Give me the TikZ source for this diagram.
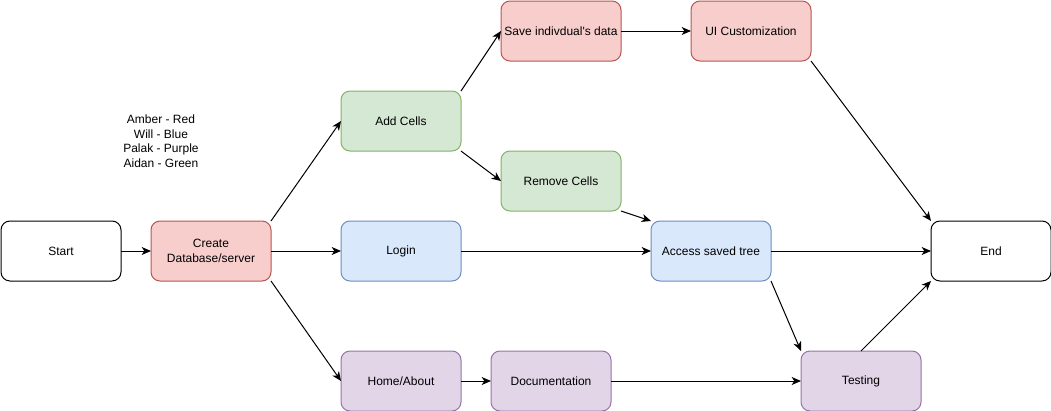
\documentclass[tikz,border=0pt]{standalone}
\usepackage{fontspec}
\newfontfamily\dfont{Liberation Sans}
\usetikzlibrary{arrows.meta}
\definecolor{redF}{HTML}{F8CECC}\definecolor{redD}{HTML}{B85450}
\definecolor{grnF}{HTML}{D5E8D4}\definecolor{grnD}{HTML}{82B366}
\definecolor{bluF}{HTML}{DAE8FC}\definecolor{bluD}{HTML}{6C8EBF}
\definecolor{purF}{HTML}{E1D5E7}\definecolor{purD}{HTML}{9673A6}
\tikzset{
  box/.style={draw, rounded corners=6.75pt, minimum width=90pt, minimum height=45pt,
    inner sep=0pt, outer sep=0pt, line width=0.75pt, align=center,
    font=\dfont\fontsize{9}{10.9}\selectfont},
  plain/.style={box, draw=black, fill=white},
  redbox/.style={box, draw=redD, fill=redF},
  grnbox/.style={box, draw=grnD, fill=grnF},
  blubox/.style={box, draw=bluD, fill=bluF},
  purbox/.style={box, draw=purD, fill=purF},
  conn/.style={-{Stealth[length=7pt,width=6pt,inset=2pt]}, line width=0.75pt, black}
}
\begin{document}
\begin{tikzpicture}[x=0.75pt,y=-0.75pt]
\useasboundingbox (0,0) rectangle (1051,411);
\node[plain]  (start)   at (61,251)  {Start};
\node[redbox] (create)  at (211,251) {Create\\Database/server};
\node[grnbox] (add)     at (401,121) {Add Cells};
\node[blubox] (login)   at (401,251) {Login};
\node[purbox] (home)    at (401,381) {Home/About};
\node[redbox] (save)    at (561,31)  {Save indivdual's data};
\node[redbox] (ui)      at (751,31)  {UI Customization};
\node[grnbox] (remove)  at (561,181) {Remove Cells};
\node[blubox] (access)  at (711,251) {Access saved tree};
\node[purbox] (doc)     at (551,381) {Documentation};
\node[purbox] (testing) at (861,381) {Testing};
\node[plain]  (end)     at (991,251) {End};
\node[align=center, inner sep=0pt, font=\dfont\fontsize{9}{10.9}\selectfont] (legend) at (161,141)
  {Amber - Red\\Will - Blue\\Palak - Purple\\Aidan - Green};
\draw[conn] (start.east) -- (create.west);
\draw[conn] (create.north east) -- (add.west);
\draw[conn] (create.east) -- (login.west);
\draw[conn] (create.south east) -- (home.west);
\draw[conn] (add.north east) -- (save.west);
\draw[conn] (add.south east) -- (remove.west);
\draw[conn] (save.east) -- (ui.west);
\draw[conn] (ui.south east) -- (end.north west);
\draw[conn] (remove.south east) -- (access.north west);
\draw[conn] (login.east) -- (access.west);
\draw[conn] (access.east) -- (end.west);
\draw[conn] (access.south east) -- (testing.north west);
\draw[conn] (home.east) -- (doc.west);
\draw[conn] (doc.east) -- (testing.west);
\draw[conn] (testing.north) -- (end.south west);
\end{tikzpicture}
\end{document}
